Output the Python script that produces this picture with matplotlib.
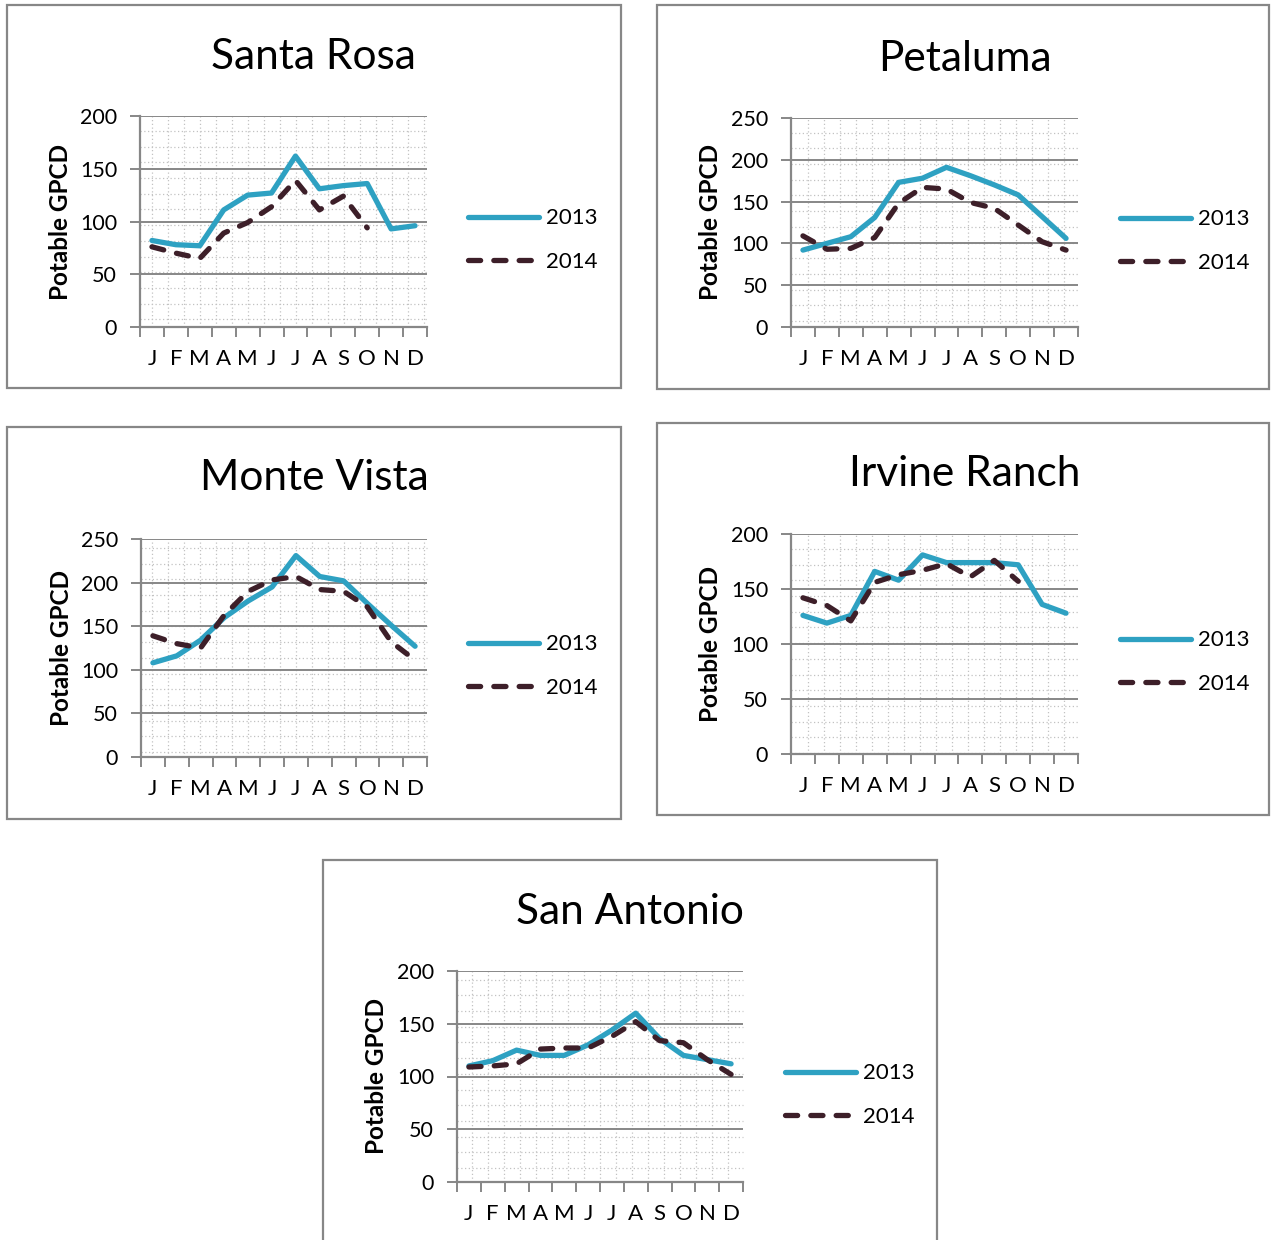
import numpy as np
import matplotlib.pyplot as plt
import matplotlib.patches as mpatches

plt.rcParams['font.family'] = ['Lato', 'DejaVu Sans']

# ============ Dados (GPCD potável por mês) ============
meses = ['J', 'F', 'M', 'A', 'M', 'J', 'J', 'A', 'S', 'O', 'N', 'D']

santa_rosa_2013 = [82, 78, 77, 111, 125, 127, 162, 131, 134, 136, 93, 96]
santa_rosa_2014 = [76, 70, 65, 89, 99, 114, 139, 111, 124, 94]

petaluma_2013 = [92, 100, 108, 131, 173, 178, 191, 181, 170, 158, 132, 106]
petaluma_2014 = [109, 93, 94, 107, 148, 167, 165, 149, 142, 122, 102, 92]

monte_vista_2013 = [108, 116, 134, 160, 179, 195, 231, 207, 202, 176, 151, 127]
monte_vista_2014 = [139, 130, 125, 163, 190, 203, 207, 192, 190, 172, 132, 111]

irvine_2013 = [126, 119, 126, 166, 158, 181, 174, 174, 174, 172, 136, 128]
irvine_2014 = [142, 135, 121, 156, 163, 167, 173, 161, 176, 157]

san_antonio_2013 = [110, 115, 125, 120, 120, 130, 144, 160, 136, 120, 116, 112]
san_antonio_2014 = [109, 110, 112, 126, 127, 127, 138, 152, 134, 132, 116, 102]

anos = ['2013', '2014']

# ============ Layout (pixels) ============
W, H = 1271, 1240
COR_2013 = '#2ea1c2'
COR_2014 = '#3d1f29'
CINZA = '#878787'
PONTILHADO = '#c2c2c2'

paineis = [
    # titulo, 2013, 2014, ymax, moldura, eixo, titulo_xy, legenda_xy, offset grade (x, y)
    ('Santa Rosa', santa_rosa_2013, santa_rosa_2014, 200,
     (7, 5, 621, 388), (140, 116, 427, 327), (313, 57), (468, 240), (11.7, 7.7)),
    ('Petaluma', petaluma_2013, petaluma_2014, 250,
     (657, 5, 1269, 389), (791, 118, 1078, 327), (965, 59), (1120, 241), (17, 6)),
    ('Monte Vista', monte_vista_2013, monte_vista_2014, 250,
     (7, 427, 621, 819), (141, 539, 427, 757), (314, 478), (468, 666), (11, 5)),
    ('Irvine Ranch', irvine_2013, irvine_2014, 200,
     (657, 423, 1269, 815), (791, 534, 1078, 754), (965, 474), (1120, 662), (17, 1)),
    ('San Antonio', san_antonio_2013, san_antonio_2014, 200,
     (323, 860, 937, 1300), (457, 971, 743, 1182), (630, 912), (785, 1095), (15, 14)),
]


def rect_px(l, t, r, b):
    return [l / W, 1 - b / H, (r - l) / W, (b - t) / H]


def grade_pontilhada(ax, larg_px, alt_px, off_x, off_y):
    # padrão de grade fixo em pixels, como no preenchimento da área de plotagem
    xs = np.arange(off_x, larg_px, 16.0) / larg_px
    ys = np.arange(off_y, alt_px, 15.7) / alt_px
    for x in xs:
        ax.plot([x, x], [0, 1], color=PONTILHADO, lw=0.9, ls=(0, (1, 2)),
                transform=ax.transAxes, zorder=0, clip_on=False)
    for y in ys:
        ax.plot([0, 1], [y, y], color=PONTILHADO, lw=0.9, ls=(0, (1, 2)),
                transform=ax.transAxes, zorder=0, clip_on=False)


fig = plt.figure(figsize=(W / 100, H / 100), dpi=100)

for titulo, v13, v14, ymax, moldura, eixo, txy, lxy, off in paineis:
    l, t, r, b = moldura
    fig.patches.append(mpatches.Rectangle(
        (l / W, 1 - b / H), (r - l) / W, (b - t) / H, transform=fig.transFigure,
        fill=False, edgecolor=CINZA, lw=1.6, zorder=0))

    ax = fig.add_axes(rect_px(*eixo))
    ax.set_facecolor('none')
    grade_pontilhada(ax, eixo[2] - eixo[0], eixo[3] - eixo[1], *off)

    x13 = np.arange(len(v13))
    x14 = np.arange(len(v14))
    l13, = ax.plot(x13, v13, color=COR_2013, lw=3.8, solid_joinstyle='round',
                   solid_capstyle='round', zorder=3)
    l14, = ax.plot(x14, v14, color=COR_2014, lw=3.8, dashes=(2.3, 2.5),
                   dash_capstyle='round', dash_joinstyle='round', zorder=4)

    ax.set_xlim(-0.5, 11.5)
    ax.set_ylim(0, ymax)
    ax.set_xticks(np.arange(-0.5, 12, 1))
    ax.set_xticklabels([])
    ax.set_xticks(np.arange(12), minor=True)
    ax.set_xticklabels(meses, minor=True, fontsize=16)
    ax.tick_params(axis='x', which='major', length=7, width=1.4, color=CINZA,
                   direction='out')
    ax.tick_params(axis='x', which='minor', length=0, pad=15.5)
    ax.set_yticks(np.arange(0, ymax + 1, 50))
    ax.tick_params(axis='y', length=7, width=1.4, color=CINZA, labelsize=15.5,
                   pad=9.5)
    ax.yaxis.grid(True, color=CINZA, lw=1.4)
    ax.set_axisbelow(True)
    for s in ['top', 'right']:
        ax.spines[s].set_visible(False)
    for s in ['left', 'bottom']:
        ax.spines[s].set_color(CINZA)
        ax.spines[s].set_linewidth(1.6)

    ax.set_ylabel('Potable GPCD', fontsize=17.5, fontweight='bold', labelpad=6)

    fig.text(txy[0] / W, 1 - txy[1] / H, titulo, fontsize=30.5,
             ha='center', va='center')

    ax.legend([l13, l14], anos, loc='center left',
              bbox_to_anchor=(lxy[0] / W, 1 - lxy[1] / H),
              bbox_transform=fig.transFigure, frameon=False, fontsize=16,
              handlelength=3.2, handletextpad=0.3, labelspacing=1.05,
              borderpad=0, borderaxespad=0)

fig.savefig('out.png', dpi=100)
